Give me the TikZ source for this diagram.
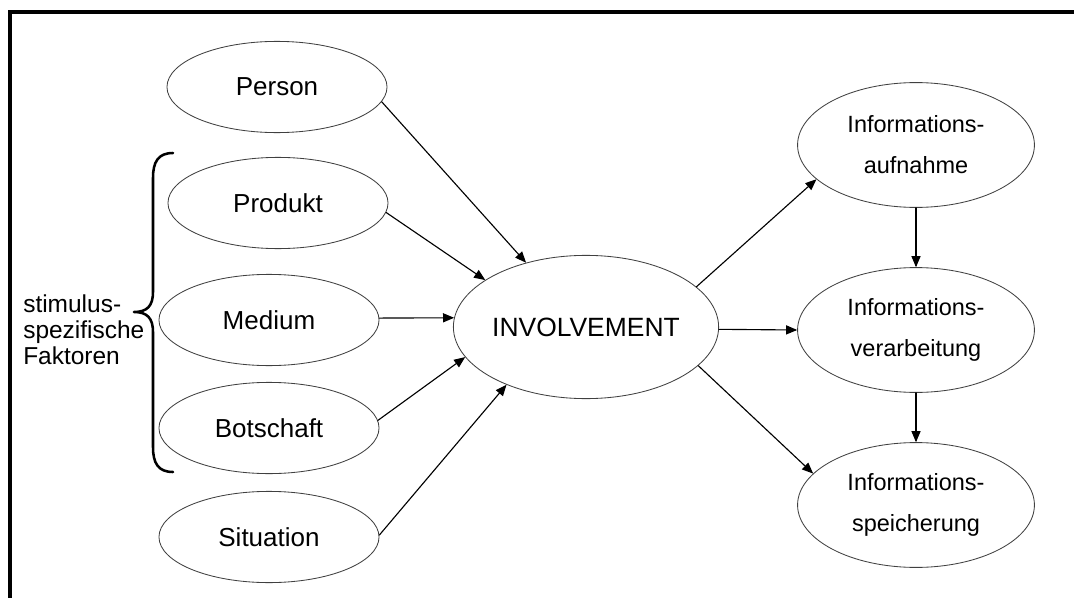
\documentclass[tikz,border=0pt]{standalone}
\usepackage{fontspec}
\setmainfont{Liberation Sans}
\usepackage{tikz}
\usetikzlibrary{arrows,shapes.geometric}

\tikzset{
  faktor/.style={ellipse,draw=black!75,line width=0.6pt,inner sep=0pt,
    minimum width=5.5cm,minimum height=2.28cm,font=\fontsize{18.5}{22}\selectfont},
  zentrum/.style={ellipse,draw=black!75,line width=0.6pt,inner sep=0pt,
    minimum width=6.35cm,minimum height=3.58cm,font=\fontsize{18.8}{22}\selectfont},
  wirkung/.style={ellipse,draw=black!75,line width=0.6pt,inner sep=0pt,align=center,
    minimum width=5.92cm,minimum height=3.12cm,font=\fontsize{16.7}{29.2}\selectfont},
  pfeil/.style={->,line width=0.8pt}
}

\begin{document}
\begin{tikzpicture}[line cap=round,line join=round,>=triangle 45,x=0.025cm,y=-0.025cm]
      \useasboundingbox (0,0) rectangle (1074,598);
      \draw[line width=2.4pt,line cap=butt,line join=miter] (10,598) -- (10,12) -- (1074,12);
      % Einflussfaktoren
      \node[faktor] (person) at (277,87) {Person};
      \node[faktor] (produkt) at (278,203) {Produkt};
      \node[faktor] (medium) at (269,320) {Medium};
      \node[faktor] (botschaft) at (269,428) {Botschaft};
      \node[faktor] (situation) at (269,537) {Situation};
      \node[zentrum] (inv) at (586,327) {INVOLVEMENT};
      % Wirkungen
      \node[wirkung] (aufnahme) at (916,145) {Informations-\\aufnahme};
      \node[wirkung] (verarbeitung) at (916,330) {Informations-\\verarbeitung};
      \node[wirkung] (speicherung) at (916,505) {Informations-\\speicherung};
      \node[anchor=west,align=left,inner sep=0pt,font=\fontsize{17.4}{18.5}\selectfont] (stimulus) at (23,330) {stimulus-\\spezifische\\Faktoren};
      \draw[line width=1.8pt] (173,153) .. controls (158,153) and (153,162) .. (153,178) -- (153,292)
        .. controls (153,306) and (147,312) .. (134,312) .. controls (147,312) and (153,318) .. (153,332)
        -- (153,447) .. controls (153,463) and (158,472) .. (173,472);
      \draw[pfeil] (person.-8) -- (inv.133);
      \draw[pfeil] (produkt.-5) -- (inv.155);
      \draw[pfeil] (medium.1) -- (inv.176);
      \draw[pfeil] (botschaft.4) -- (inv.194);
      \draw[pfeil] (situation.1) -- (inv.216);
      \draw[pfeil] (inv.20) -- (aufnahme.199);
      \draw[pfeil] (inv.-1) -- (verarbeitung.180);
      \draw[pfeil] (inv.-19) -- (speicherung.163);
      \draw[pfeil] (aufnahme) -- (verarbeitung);
      \draw[pfeil] (verarbeitung) -- (speicherung);
\end{tikzpicture}
\end{document}
